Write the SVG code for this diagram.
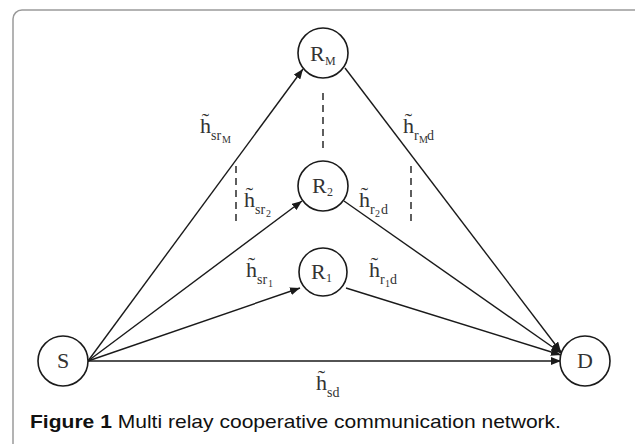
<svg xmlns="http://www.w3.org/2000/svg" width="635" height="444" viewBox="0 0 635 444">
<style>
.node{fill:#fff;stroke:#1a1a1a;stroke-width:1.6}
.edge{stroke:#1a1a1a;stroke-width:1.4;fill:none}
.dash{stroke:#1a1a1a;stroke-width:1.4;stroke-dasharray:7,5}
.t{font-family:"Liberation Serif","Times New Roman",serif;fill:#333}
.h{font-size:22px}
.s{font-size:14px}
.ss{font-size:10px}
.nl{font-family:"Liberation Serif","Times New Roman",serif;fill:#333;font-size:22px}
.ns{font-family:"Liberation Serif","Times New Roman",serif;fill:#333;font-size:12px}
.cap{font-family:"Liberation Sans",Arial,sans-serif;font-size:19px;fill:#111}
</style>
<defs>
<marker id="arr" viewBox="0 0 10 8" refX="10" refY="4" markerWidth="10" markerHeight="8" markerUnits="userSpaceOnUse" orient="auto">
<path d="M0,0 L10,4 L0,8 z" fill="#1a1a1a"/>
</marker>
</defs>
<rect x="13" y="10" width="640" height="460" rx="9" fill="#fff" stroke="#9a9a9a" stroke-width="1.5"/>
<g id="connectors">
<line class="edge" x1="88" y1="361" x2="303" y2="69" marker-end="url(#arr)"/>
<line class="edge" x1="88" y1="361" x2="302" y2="201" marker-end="url(#arr)"/>
<line class="edge" x1="88" y1="361" x2="300" y2="288" marker-end="url(#arr)"/>
<line class="edge" x1="88" y1="361" x2="561" y2="361" marker-end="url(#arr)"/>
<line class="edge" x1="345" y1="68" x2="561" y2="352" marker-end="url(#arr)"/>
<line class="edge" x1="344" y1="201" x2="561" y2="353" marker-end="url(#arr)"/>
<line class="edge" x1="346" y1="288" x2="561" y2="355" marker-end="url(#arr)"/>
<line class="dash" x1="323" y1="93" x2="323" y2="151"/>
<line class="dash" x1="236" y1="166" x2="236" y2="224"/>
<line class="dash" x1="411" y1="166" x2="411" y2="224"/>
</g>
<g id="edge-labels">
<text class="t h" x="200" y="133">h&#x303;</text>
<text class="t s" x="211" y="140">sr</text><text class="t ss" x="222" y="143">M</text>
<text class="t h" x="403" y="133">h&#x303;</text>
<text class="t s" x="414" y="140">r</text><text class="t ss" x="419" y="143">M</text><text class="t s" x="427" y="140">d</text>
<text class="t h" x="244" y="207">h&#x303;</text>
<text class="t s" x="255" y="214">sr</text><text class="t ss" x="266" y="217">2</text>
<text class="t h" x="359" y="207">h&#x303;</text>
<text class="t s" x="370" y="214">r</text><text class="t ss" x="375" y="217">2</text><text class="t s" x="381" y="214">d</text>
<text class="t h" x="246" y="277">h&#x303;</text>
<text class="t s" x="257" y="284">sr</text><text class="t ss" x="268" y="287">1</text>
<text class="t h" x="369" y="277">h&#x303;</text>
<text class="t s" x="380" y="284">r</text><text class="t ss" x="385" y="287">1</text><text class="t s" x="390" y="284">d</text>
<text class="t h" x="316" y="390">h&#x303;</text>
<text class="t s" x="327" y="397">sd</text>
</g>
<g id="RM">
<circle class="node" cx="323" cy="53" r="25"/>
<text class="nl" x="310" y="61">R</text><text class="ns" x="325" y="65">M</text>
</g>
<g id="R2">
<circle class="node" cx="323" cy="186" r="25"/>
<text class="nl" x="312" y="193">R</text><text class="ns" x="327" y="196">2</text>
</g>
<g id="R1">
<circle class="node" cx="323" cy="272" r="24"/>
<text class="nl" x="311" y="279">R</text><text class="ns" x="326" y="282">1</text>
</g>
<g id="S">
<circle class="node" cx="63" cy="361" r="25"/>
<text class="nl" x="63" y="368" text-anchor="middle">S</text>
</g>
<g id="D">
<circle class="node" cx="585" cy="361" r="25"/>
<text class="nl" x="585" y="368" text-anchor="middle">D</text>
</g>
<text class="cap" x="30" y="428" textLength="531" lengthAdjust="spacingAndGlyphs"><tspan font-weight="bold">Figure 1</tspan> Multi relay cooperative communication network.</text>
</svg>
